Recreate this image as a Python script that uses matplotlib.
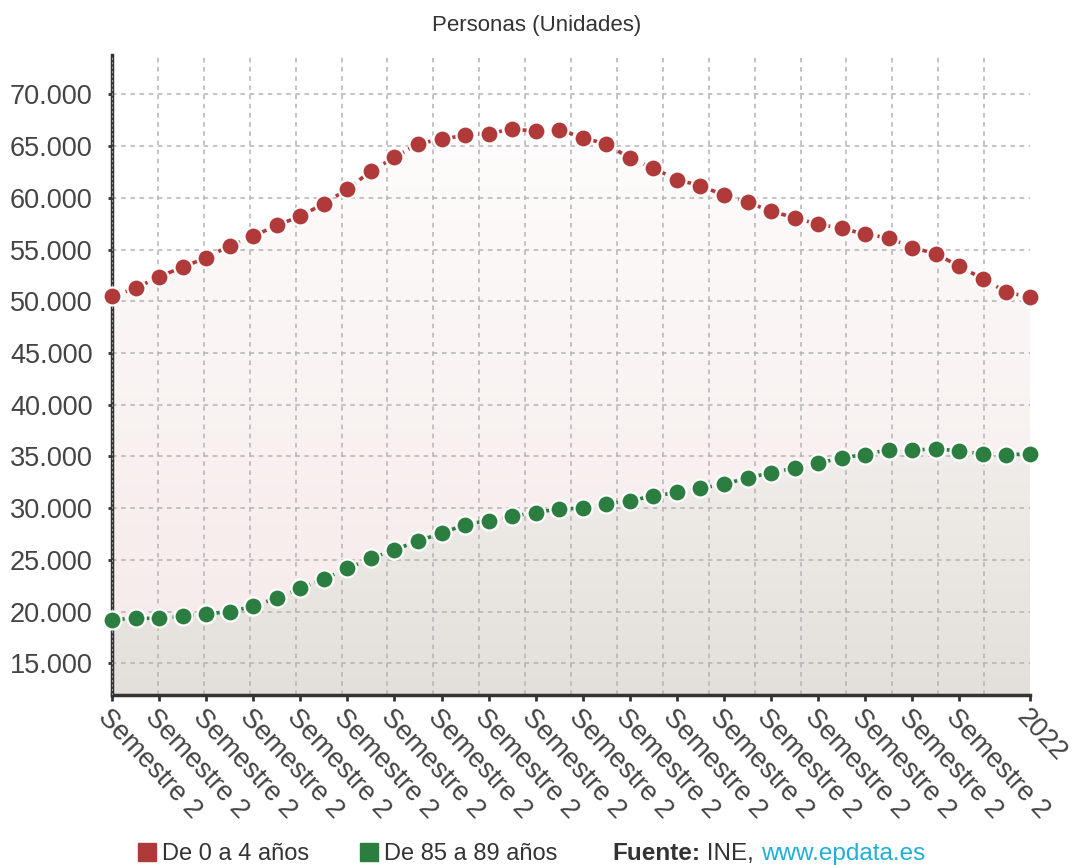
import numpy as np
import matplotlib.pyplot as plt
from matplotlib.patches import Polygon, Rectangle
from matplotlib.colors import LinearSegmentedColormap
from matplotlib.ticker import FuncFormatter

plt.rcParams['font.family'] = ['Liberation Sans', 'DejaVu Sans']

# 40 semesters, labelled every second point
tick_idx = list(range(0, 37, 2)) + [39]
tick_labels = ['Semestre 2'] * 19 + ['2022']

red_vals = [50470, 51270, 52370, 53300, 54210, 55370, 56300, 57330, 58230, 59430,
            60840, 62580, 63900, 65230, 65650, 66060, 66200, 66640, 66450, 66590,
            65810, 65190, 63840, 62870, 61750, 61170, 60250, 59590, 58690, 58080,
            57430, 57070, 56460, 56140, 55180, 54600, 53370, 52180, 50880, 50400]
green_vals = [19230, 19360, 19360, 19550, 19780, 20010, 20520, 21330, 22260, 23170,
              24190, 25160, 25970, 26850, 27580, 28420, 28810, 29220, 29580, 29940,
              30000, 30420, 30740, 31160, 31540, 31930, 32320, 32940, 33420, 33900,
              34350, 34870, 35190, 35670, 35580, 35770, 35510, 35260, 35190, 35220]

red = '#b03a3a'
green = '#2c7d40'
ymin, ymax = 11950, 73800

fig = plt.figure(figsize=(10.8, 8.65), dpi=100)
ax = fig.add_axes([112/1080, 170/865, 918/1080, 640/865])
x = np.arange(len(red_vals))


def gradient_fill(xs, ys, top, bottom, z):
    verts = [(xs[0], ymin)] + list(zip(xs, ys)) + [(xs[-1], ymin)]
    poly = Polygon(verts, closed=True, facecolor='none', edgecolor='none')
    ax.add_patch(poly)
    cmap = LinearSegmentedColormap.from_list('g', [top, bottom])
    grad = np.linspace(0, 1, 256)[:, None]
    im = ax.imshow(grad, aspect='auto', cmap=cmap, origin='upper',
                   extent=[xs[0], xs[-1], ymin, max(ys)], zorder=z)
    im.set_clip_path(poly)


gradient_fill(x, red_vals, '#fefcfc', '#f4e9e8', 0.2)
gradient_fill(x, green_vals, '#f1edea', '#e3dfda', 0.3)

ax.plot(x, red_vals, color=red, lw=2.6, ls=(0, (2.6, 1.4)), marker='o', ms=13,
        mfc=red, mec='white', mew=1.6, clip_on=False, zorder=3)
ax.plot(x, green_vals, color=green, lw=2.6, ls=(0, (1.1, 1.3)), marker='o', ms=13,
        mfc=green, mec='white', mew=1.6, clip_on=False, zorder=3)

ax.set_xlim(0, 39)
ax.set_ylim(ymin, ymax)
ax.set_yticks(range(15000, 70001, 5000))
ax.yaxis.set_major_formatter(FuncFormatter(lambda v, p: f'{int(v):,}'.replace(',', '.')))
ax.set_xticks(tick_idx)
ax.set_xticklabels(tick_labels)
ax.set_xticks(np.linspace(0, 39, 21), minor=True)

ax.set_axisbelow(True)
ax.yaxis.grid(True, color='#b3b3b3', ls=(0, (3, 3)), lw=1.1)
ax.xaxis.grid(True, which='minor', color='#b3b3b3', ls=(0, (3, 3)), lw=1.1)
ax.xaxis.grid(False, which='major')
ax.tick_params(axis='x', which='minor', length=0)
ax.tick_params(axis='x', which='major', length=4, width=2, color='#333333',
               labelsize=19.5, labelcolor='#444444', pad=3)
ax.tick_params(axis='y', length=3, width=2, color='#333333',
               labelsize=19.5, labelcolor='#444444', pad=11)
for lab in ax.get_xticklabels():
    lab.set_rotation(-47)
    lab.set_ha('left')
    lab.set_va('top')
    lab.set_rotation_mode('anchor')

for s in ['top', 'right']:
    ax.spines[s].set_visible(False)
for s in ['left', 'bottom']:
    ax.spines[s].set_color('#333333')
    ax.spines[s].set_linewidth(2.5)
ax.axvline(0, color='#9a9a9a', ls=(0, (2, 2)), lw=0.8, zorder=2.6)

fig.text(0.497, (865 - 25) / 865, 'Personas (Unidades)', ha='center', va='center',
         fontsize=16, color='#333333')

# legend and source line
for px, col, txt in [(138, red, 'De 0 a 4 años'), (360, green, 'De 85 a 89 años')]:
    fig.add_artist(Rectangle((px/1080, 4/865), 18/1080, 18/865,
                             transform=fig.transFigure, color=col))
    fig.text((px + 24)/1080, 5/865, txt, fontsize=17, color='#333333', va='baseline')

fig.canvas.draw()
r = fig.canvas.get_renderer()
xpos = 612
for txt, col, wt in [('Fuente:', '#333333', 'bold'), (' INE, ', '#333333', 'normal'),
                     ('www.epdata.es', '#1fb0d6', 'normal')]:
    t = fig.text(xpos/1080, 5/865, txt, fontsize=17.5, color=col, fontweight=wt, va='baseline')
    xpos += t.get_window_extent(r).width

fig.savefig('out.png', dpi=100)
